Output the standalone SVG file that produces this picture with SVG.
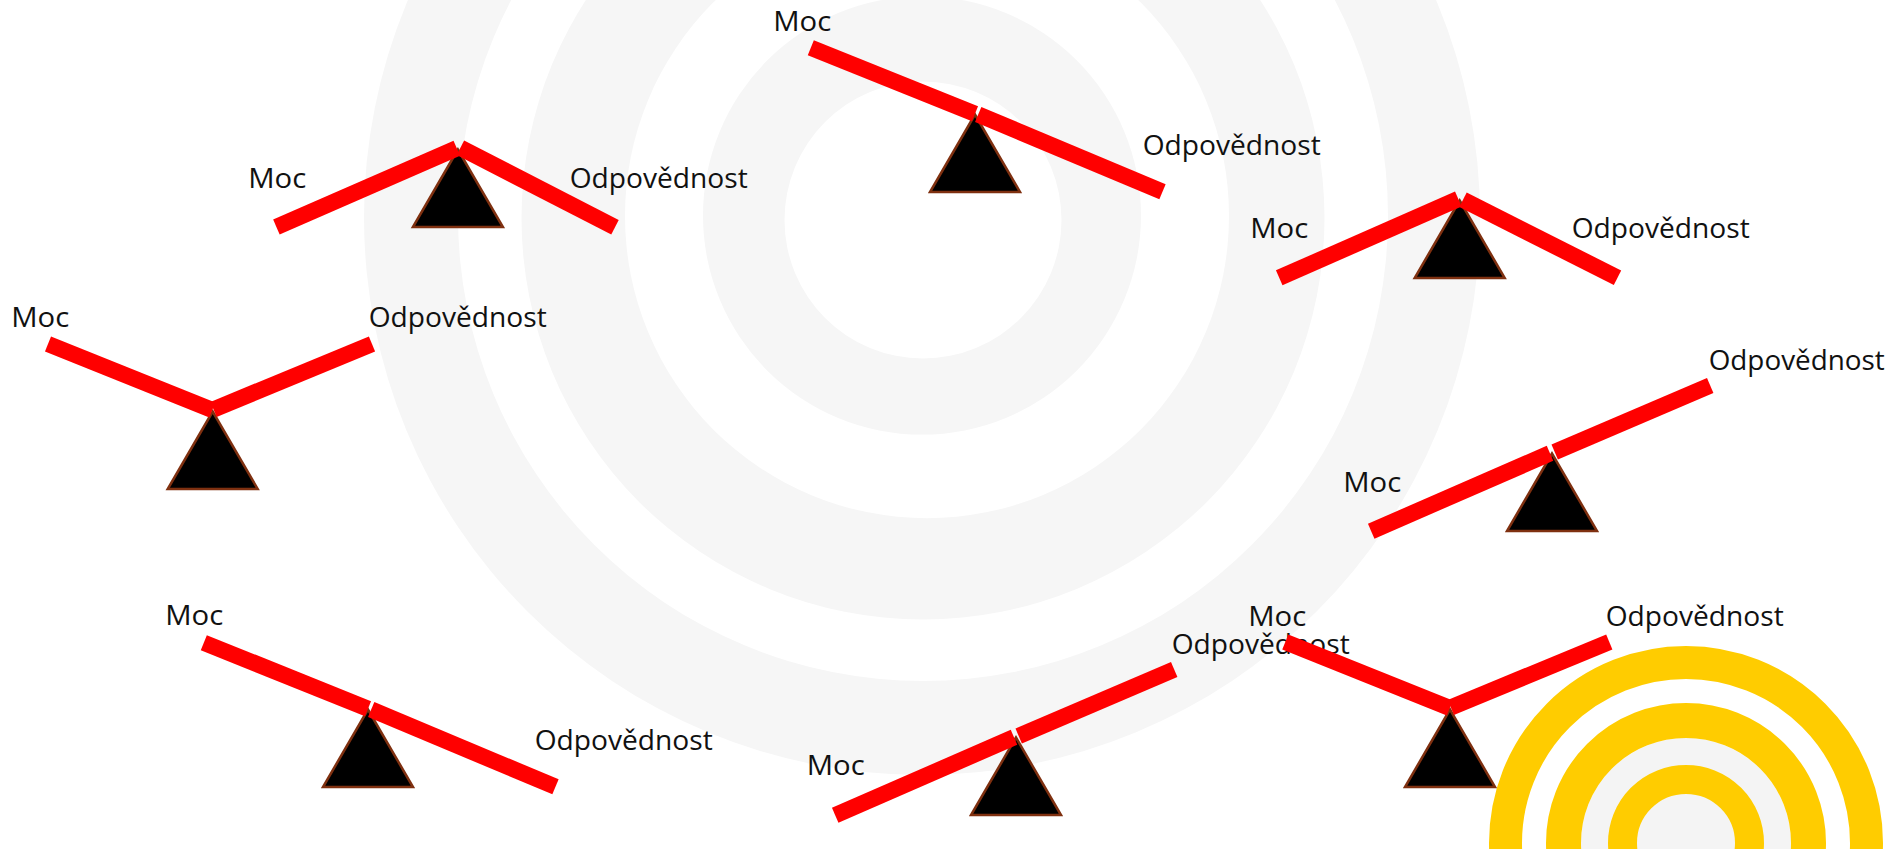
<svg xmlns="http://www.w3.org/2000/svg" width="1885" height="849" viewBox="0 0 1885 849">
<style>
.bg{fill:#f6f6f6;fill-rule:evenodd}
.y{fill:none;stroke:#ffcc00}
.beam{stroke:#ff0000;stroke-width:16.300;fill:none}
.fulcrum{fill:#000;stroke:#7f3010;stroke-width:2.5}
text{font-family:"Open Sans","Noto Sans","Liberation Sans",sans-serif;font-size:28px;fill:#111}
</style>
<rect width="1885" height="849" fill="#fff"/>
<g id="rings">
<path class="bg" d="M703,215.5a219,219 0 1 0 438,0a219,219 0 1 0 -438,0ZM784.5,220a138.5,138.5 0 1 0 277,0a138.5,138.5 0 1 0 -277,0Z"/>
<path class="bg" d="M521.5,218a401.5,401.5 0 1 0 803,0a401.5,401.5 0 1 0 -803,0ZM625,216a302,302 0 1 0 604,0a302,302 0 1 0 -604,0Z"/>
<path class="bg" d="M364,217a558,558 0 1 0 1116,0a558,558 0 1 0 -1116,0ZM458,216a465,465 0 1 0 930,0a465,465 0 1 0 -930,0Z"/>
</g>
<g id="yellow-rings">
<circle cx="1686" cy="843" r="105" fill="#f4f4f4"/>
<circle class="y" cx="1686" cy="843" r="180.500" stroke-width="33"/>
<circle class="y" cx="1686" cy="843" r="122.500" stroke-width="35"/>
<circle class="y" cx="1686" cy="843" r="63.500" stroke-width="29"/>
</g>
<g id="fulcrums">
<polygon id="f1" class="fulcrum" points="457.9,149.500 412.900,227 502.900,227"/>
<polygon id="f2" class="fulcrum" points="975,114.500 930,192 1020,192"/>
<polygon id="f3" class="fulcrum" points="1459.7,200.500 1414.700,278 1504.700,278"/>
<polygon id="f4" class="fulcrum" points="212.7,411.500 167.700,489 257.700,489"/>
<polygon id="f5" class="fulcrum" points="1552,453.500 1507,531 1597,531"/>
<polygon id="f6" class="fulcrum" points="368,709.500 323,787 413,787"/>
<polygon id="f7" class="fulcrum" points="1016,737.500 971,815 1061,815"/>
<polygon id="f8" class="fulcrum" points="1450,709.500 1405,787 1495,787"/>
</g>
<g id="labels">
<text x="248.200" y="187.500" textLength="58" lengthAdjust="spacingAndGlyphs">Moc</text><text x="569.700" y="187.500" textLength="178" lengthAdjust="spacingAndGlyphs">Odpovědnost</text>
<text x="773.200" y="30.500" textLength="58" lengthAdjust="spacingAndGlyphs">Moc</text><text x="1142.700" y="155" textLength="178" lengthAdjust="spacingAndGlyphs">Odpovědnost</text>
<text x="1250.200" y="238" textLength="58" lengthAdjust="spacingAndGlyphs">Moc</text><text x="1571.700" y="238" textLength="178" lengthAdjust="spacingAndGlyphs">Odpovědnost</text>
<text x="11.200" y="327" textLength="58" lengthAdjust="spacingAndGlyphs">Moc</text><text x="368.700" y="327" textLength="178" lengthAdjust="spacingAndGlyphs">Odpovědnost</text>
<text x="1343.200" y="492" textLength="58" lengthAdjust="spacingAndGlyphs">Moc</text><text x="1708.700" y="370" textLength="176" lengthAdjust="spacingAndGlyphs">Odpovědnost</text>
<text x="165.200" y="625" textLength="58" lengthAdjust="spacingAndGlyphs">Moc</text><text x="534.700" y="750" textLength="178" lengthAdjust="spacingAndGlyphs">Odpovědnost</text>
<text x="806.700" y="775" textLength="58" lengthAdjust="spacingAndGlyphs">Moc</text><text x="1171.700" y="654" textLength="178" lengthAdjust="spacingAndGlyphs">Odpovědnost</text>
<text x="1248.200" y="626" textLength="58" lengthAdjust="spacingAndGlyphs">Moc</text><text x="1605.700" y="626" textLength="178" lengthAdjust="spacingAndGlyphs">Odpovědnost</text>
</g>
<g id="connectors">
<line class="beam" x1="276.4" y1="227" x2="456.8" y2="148.3"/><line class="beam" x1="460.4" y1="147.700" x2="615" y2="227.300"/>
<line class="beam" x1="810.8" y1="47.700" x2="975" y2="113.700"/><line class="beam" x1="978.2" y1="114.500" x2="1162.5" y2="191.800"/>
<line class="beam" x1="1279.2" y1="277.800" x2="1458.3" y2="199"/><line class="beam" x1="1463" y1="199.700" x2="1617.500" y2="277.800"/>
<line class="beam" x1="48" y1="344" x2="212.3" y2="410"/><line class="beam" x1="213.500" y1="409.500" x2="372" y2="344"/>
<line class="beam" x1="1371.2" y1="531.2" x2="1550" y2="453.3"/><line class="beam" x1="1554.700" y1="452" x2="1710.200" y2="385.500"/>
<line class="beam" x1="203.800" y1="642.700" x2="368" y2="708.700"/><line class="beam" x1="371.200" y1="709.500" x2="555.500" y2="786.800"/>
<line class="beam" x1="835.200" y1="815.200" x2="1014" y2="737.300"/><line class="beam" x1="1018.700" y1="736" x2="1174.200" y2="669.500"/>
<line class="beam" x1="1285.300" y1="642" x2="1449.800" y2="708"/><line class="beam" x1="1450.800" y1="707.500" x2="1609.300" y2="642"/>
</g>
</svg>
